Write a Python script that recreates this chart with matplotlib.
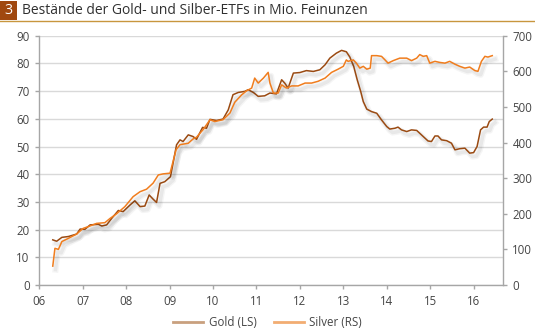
import matplotlib
matplotlib.use("Agg")
import matplotlib.pyplot as plt
import matplotlib.patheffects as pe
from matplotlib.lines import Line2D
from matplotlib.patches import Rectangle

plt.rcParams['font.family'] = ['Open Sans', 'DejaVu Sans']

title_num = "3"
title_text = "Bestände der Gold- und Silber-ETFs in Mio. Feinunzen"

gold_years = [2006.31, 2006.40, 2006.52, 2006.67, 2006.86, 2006.94, 2007.05, 2007.17, 2007.36, 2007.44,
              2007.55, 2007.67, 2007.82, 2007.93, 2008.09, 2008.20, 2008.32, 2008.43, 2008.53, 2008.62,
              2008.70, 2008.78, 2008.89, 2009.02, 2009.08, 2009.16, 2009.24, 2009.31, 2009.43, 2009.54,
              2009.62, 2009.76, 2009.85, 2009.93, 2010.08, 2010.23, 2010.35, 2010.46, 2010.58, 2010.73,
              2010.81, 2010.93, 2011.04, 2011.19, 2011.31, 2011.46, 2011.58, 2011.65, 2011.73, 2011.85,
              2012.00, 2012.15, 2012.31, 2012.46, 2012.58, 2012.69, 2012.84, 2012.96, 2013.07, 2013.15,
              2013.24, 2013.32, 2013.40, 2013.46, 2013.54, 2013.65, 2013.77, 2013.88, 2014.00, 2014.07,
              2014.19, 2014.26, 2014.34, 2014.46, 2014.57, 2014.69, 2014.84, 2014.95, 2015.03, 2015.11,
              2015.18, 2015.26, 2015.38, 2015.49, 2015.57, 2015.68, 2015.80, 2015.91, 2016.00, 2016.08,
              2016.16, 2016.23, 2016.31, 2016.36, 2016.43]
gold_values = [16.3, 15.8, 17.2, 17.5, 18.4, 20.2, 20.1, 21.7, 21.9, 21.3,
               21.7, 24.1, 26.9, 26.5, 28.9, 30.4, 28.3, 28.5, 32.5, 31.0,
               29.8, 36.7, 37.3, 39.1, 44.0, 50.6, 52.4, 51.8, 54.2, 53.6,
               52.6, 56.9, 56.6, 59.8, 59.4, 59.9, 63.2, 68.7, 69.5, 69.9,
               70.5, 69.5, 68.1, 68.3, 69.3, 69.0, 74.1, 72.9, 71.1, 76.5,
               76.7, 77.4, 77.1, 77.7, 79.5, 81.9, 83.7, 84.7, 84.2, 82.3,
               78.9, 74.1, 69.9, 66.2, 63.5, 62.6, 62.0, 59.6, 57.2, 56.3,
               56.6, 57.0, 56.0, 55.4, 56.0, 55.8, 53.6, 52.0, 51.8, 53.8,
               53.8, 52.4, 52.1, 51.2, 48.8, 49.2, 49.4, 47.6, 47.8, 50.0,
               56.0, 57.0, 57.0, 59.0, 59.9]

silver_years = [2006.31, 2006.36, 2006.44, 2006.52, 2006.67, 2006.86, 2007.01, 2007.13, 2007.32, 2007.51,
                2007.63, 2007.78, 2007.97, 2008.16, 2008.32, 2008.47, 2008.62, 2008.74, 2008.85, 2009.01,
                2009.08, 2009.15, 2009.24, 2009.43, 2009.54, 2009.62, 2009.77, 2009.93, 2010.04, 2010.23,
                2010.39, 2010.50, 2010.66, 2010.77, 2010.89, 2010.96, 2011.04, 2011.16, 2011.27, 2011.31,
                2011.39, 2011.50, 2011.58, 2011.69, 2011.81, 2011.96, 2012.12, 2012.27, 2012.42, 2012.58,
                2012.73, 2012.88, 2013.00, 2013.07, 2013.11, 2013.23, 2013.30, 2013.38, 2013.46, 2013.54,
                2013.62, 2013.65, 2013.77, 2013.88, 2013.96, 2014.03, 2014.15, 2014.30, 2014.46, 2014.57,
                2014.69, 2014.76, 2014.84, 2014.92, 2014.99, 2015.11, 2015.22, 2015.34, 2015.45, 2015.57,
                2015.68, 2015.80, 2015.91, 2016.03, 2016.10, 2016.18, 2016.26, 2016.33, 2016.43]
silver_values = [53, 103, 100, 122, 131, 143, 159, 164, 173, 175,
                 187, 200, 220, 248, 262, 269, 286, 309, 312, 314,
                 347, 380, 394, 398, 410, 415, 436, 464, 459, 464,
                 483, 513, 534, 545, 553, 581, 567, 581, 597, 567,
                 539, 539, 562, 553, 559, 559, 567, 567, 572, 581,
                 597, 606, 614, 632, 628, 632, 623, 609, 614, 606,
                 609, 644, 644, 642, 632, 623, 630, 637, 637, 630,
                 637, 647, 642, 644, 623, 628, 625, 623, 628, 620,
                 614, 609, 612, 602, 600, 628, 642, 640, 644]

x_ticks = [2006, 2007, 2008, 2009, 2010, 2011, 2012, 2013, 2014, 2015, 2016]
x_labels = ["06", "07", "08", "09", "10", "11", "12", "13", "14", "15", "16"]
left_ticks = [0, 10, 20, 30, 40, 50, 60, 70, 80, 90]
right_ticks = [0, 100, 200, 300, 400, 500, 600, 700]
legend_labels = ["Gold (LS)", "Silver (RS)"]

gold_color = "#9A4A12"
silver_color = "#F07D1E"
axis_color = "#A6A6A6"
grid_color = "#D9D9D9"
text_color = "#454545"

W, H = 535, 334
fig = plt.figure(figsize=(W / 100, H / 100), dpi=100)
ax = fig.add_axes([39.3 / W, 1 - 285 / H, (502.7 - 39.3) / W, (285 - 35.7) / H])
ax2 = ax.twinx()

shadow = [pe.SimpleLineShadow(offset=(2.0, -2.5), shadow_color="#000000", alpha=0.04, linewidth=4.5),
          pe.SimpleLineShadow(offset=(2.0, -2.5), shadow_color="#000000", alpha=0.05, linewidth=2.5),
          pe.Normal()]

ax.plot(gold_years, gold_values, color=gold_color, lw=1.1, zorder=3, path_effects=shadow)
ax2.plot(silver_years, silver_values, color=silver_color, lw=1.1, zorder=3, path_effects=shadow)

ax.set_xlim(2006, 2016.67)
ax.set_ylim(0, 90)
ax2.set_ylim(0, 700)
ax.set_xticks(x_ticks)
ax.set_xticklabels(x_labels)
ax.set_yticks(left_ticks)
ax2.set_yticks(right_ticks)

ax.yaxis.grid(True, color=grid_color, lw=1.0)
ax.set_axisbelow(True)

for a in (ax, ax2):
    a.spines['top'].set_visible(False)
    for s in ('left', 'right', 'bottom'):
        a.spines[s].set_color(axis_color)
        a.spines[s].set_linewidth(1.0)
    a.tick_params(colors=axis_color, labelcolor=text_color, labelsize=8.3, length=3, width=1.0)
ax.tick_params(axis='x', pad=4)
ax.tick_params(axis='y', pad=4)
ax2.tick_params(axis='y', pad=4)
ax2.spines['left'].set_visible(False)
ax2.spines['bottom'].set_visible(False)
ax.spines['right'].set_visible(False)

# Title band
fig.patches.append(Rectangle((0, 1 - 20 / H), 17 / W, 19 / H, transform=fig.transFigure,
                             facecolor="#A0480F", edgecolor="none"))
fig.text(8.5 / W, 1 - 10.5 / H, title_num, color="white", fontsize=10.2, ha="center", va="center")
fig.text(22 / W, 1 - 10.5 / H, title_text, color="#303030", fontsize=10.0, ha="left", va="center")
fig.add_artist(Line2D([0, 1], [1 - 20.5 / H, 1 - 20.5 / H], transform=fig.transFigure,
                      color="#C8963E", lw=1.0))

handles = [Line2D([], [], color="#C9A07E", lw=2.0), Line2D([], [], color="#F2AD72", lw=2.0)]
fig.legend(handles, legend_labels, loc="center", bbox_to_anchor=(0.5, 1 - 323 / H), ncol=2,
           frameon=False, fontsize=8.3, handlelength=2.6, columnspacing=1.5, handletextpad=0.5,
           labelcolor=text_color)

fig.savefig("out.png", dpi=100)
